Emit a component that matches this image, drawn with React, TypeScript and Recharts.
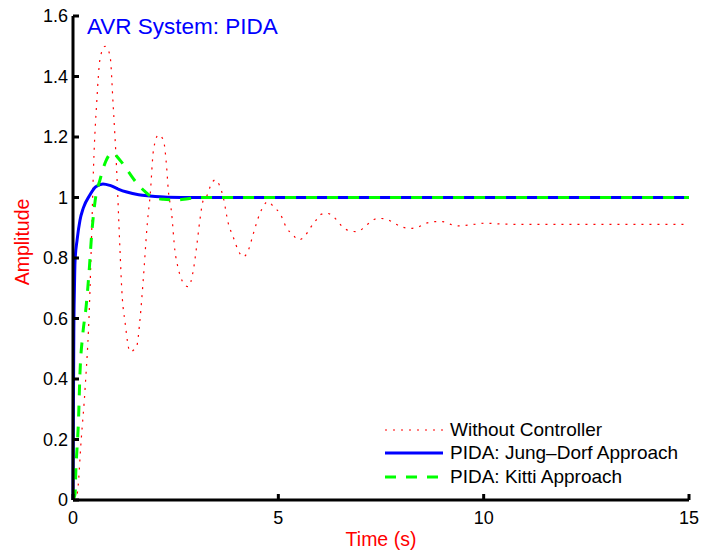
import React from 'react';
import { LineChart, Line, XAxis, YAxis, Legend } from 'recharts';

const FONT = '"Liberation Sans", Arial, Helvetica, sans-serif';

const xTicks = [0, 5, 10, 15];
const yTicks = [0, 0.2, 0.4, 0.6, 0.8, 1, 1.2, 1.4, 1.6];

// step response without controller (red dotted)
const noCtrlTime = [0, 0.1, 0.2, 0.3, 0.4, 0.45, 0.5, 0.58, 0.66, 0.78, 0.9, 0.98, 1.06, 1.14, 1.19, 1.27, 1.39, 1.47, 1.55, 1.63, 1.71, 1.81, 1.88, 1.96, 2.08, 2.2, 2.28, 2.32, 2.4, 2.48, 2.56, 2.69, 2.81, 2.93, 3.01, 3.09, 3.17, 3.25, 3.38, 3.46, 3.58, 3.66, 3.78, 3.9, 4.02, 4.15, 4.27, 4.39, 4.55, 4.75, 4.88, 5.04, 5.2, 5.36, 5.49, 5.65, 5.77, 5.89, 6.05, 6.16, 6.26, 6.42, 6.54, 6.73, 6.91, 7.09, 7.25, 7.43, 7.64, 7.82, 8.0, 8.21, 8.41, 8.6, 8.79, 9.0, 9.22, 9.42, 9.63, 9.83, 10.03, 10.5, 11, 12, 13, 14, 15];
const noCtrlAmp = [0, 0.02, 0.2, 0.38, 0.64, 0.86, 1.1, 1.32, 1.46, 1.5, 1.47, 1.3, 1.1, 0.84, 0.69, 0.585, 0.49, 0.495, 0.507, 0.595, 0.727, 0.915, 1.01, 1.157, 1.207, 1.19, 1.1, 1.025, 0.95, 0.826, 0.767, 0.717, 0.705, 0.76, 0.837, 0.926, 0.99, 1.003, 1.048, 1.058, 1.036, 1.0, 0.915, 0.87, 0.826, 0.804, 0.826, 0.88, 0.947, 0.986, 0.97, 0.947, 0.9, 0.876, 0.86, 0.873, 0.898, 0.92, 0.945, 0.948, 0.945, 0.926, 0.906, 0.89, 0.887, 0.901, 0.92, 0.931, 0.928, 0.915, 0.903, 0.898, 0.903, 0.915, 0.92, 0.92, 0.91, 0.906, 0.909, 0.912, 0.915, 0.912, 0.911, 0.911, 0.911, 0.911, 0.911];

// PIDA: Jung-Dorf (blue solid)
const jungDorfTime = [0, 0.01, 0.02, 0.035, 0.05, 0.1, 0.17, 0.25, 0.41, 0.55, 0.73, 0.9, 1.1, 1.31, 1.6, 1.87, 2.3, 3, 5, 10, 15];
const jungDorfAmp = [0, 0.3, 0.55, 0.7, 0.79, 0.86, 0.925, 0.965, 1.008, 1.035, 1.045, 1.04, 1.028, 1.018, 1.009, 1.005, 1.001, 1.0, 1.0, 1.0, 1.0];

// PIDA: Kitti (green dashed)
const kittiTime = [0, 0.05, 0.07, 0.1, 0.13, 0.17, 0.24, 0.32, 0.4, 0.45, 0.54, 0.66, 0.8, 0.95, 1.14, 1.35, 1.55, 1.75, 1.95, 2.2, 2.5, 2.8, 3.1, 5, 10, 15];
const kittiAmp = [0, 0.02, 0.1, 0.175, 0.25, 0.42, 0.55, 0.64, 0.77, 0.87, 0.99, 1.06, 1.12, 1.148, 1.124, 1.085, 1.048, 1.02, 1.0, 0.994, 0.992, 0.996, 1.0, 1.0, 1.0, 1.0];

const toPoints = (ts: number[], vs: number[]) => ts.map((t, i) => ({ t, v: vs[i] }));

const series = [
  { name: 'Without Controller', data: toPoints(noCtrlTime, noCtrlAmp), color: '#ff0000', width: 1.2, dash: '2 6' },
  { name: 'PIDA: Jung\u2013Dorf Approach', data: toPoints(jungDorfTime, jungDorfAmp), color: '#0000ff', width: 3, dash: undefined },
  { name: 'PIDA: Kitti Approach', data: toPoints(kittiTime, kittiAmp), color: '#00ff00', width: 3, dash: '11 10' },
];

const LegendBox = () => (
  <div style={{ fontFamily: FONT, fontSize: 19, color: '#000' }}>
    {series.map((s) => (
      <div key={s.name} style={{ display: 'flex', alignItems: 'center', height: 23.5 }}>
        <svg width={58} height={6}>
          <line x1={0} y1={3} x2={58} y2={3} stroke={s.color} strokeWidth={s.width} strokeDasharray={s.dash} />
        </svg>
        <span style={{ marginLeft: 7, whiteSpace: 'nowrap' }}>{s.name}</span>
      </div>
    ))}
  </div>
);

const YTitle = (props: any) => {
  const vb = props.viewBox || { x: 0, y: 16, width: 73, height: 484 };
  const cx = vb.x + 22;
  const cy = vb.y + vb.height / 2 - 16;
  return (
    <text x={cx} y={cy} transform={`rotate(-90 ${cx} ${cy})`} textAnchor="middle" dominantBaseline="central"
      fill="#ff0000" fontSize={19.5} fontFamily={FONT}>Amplitude</text>
  );
};

const XTitle = (props: any) => {
  const vb = props.viewBox || { x: 73, y: 500, width: 616, height: 56 };
  return (
    <text x={vb.x + vb.width / 2} y={vb.y + 39} textAnchor="middle" dominantBaseline="central"
      fill="#ff0000" fontSize={19.5} fontFamily={FONT}>Time (s)</text>
  );
};

export default function App() {
  const tickStyle = { fill: '#000', fontSize: 18, fontFamily: FONT };
  return (
    <div style={{ position: 'absolute', left: 0, top: 0, width: 702, height: 556, background: '#fff' }}>
      <LineChart width={702} height={556} margin={{ top: 16, right: 13, bottom: 0, left: 0 }}>
        <XAxis type="number" dataKey="t" domain={[0, 15]} ticks={xTicks} height={56}
          tick={tickStyle} tickSize={-6} tickMargin={17}
          axisLine={{ stroke: '#000', strokeWidth: 3 }} tickLine={{ stroke: '#000', strokeWidth: 3 }}
          label={{ content: XTitle }} />
        <YAxis type="number" domain={[0, 1.6]} ticks={yTicks} width={73}
          tick={tickStyle} tickSize={-6} tickMargin={11}
          axisLine={{ stroke: '#000', strokeWidth: 3 }} tickLine={{ stroke: '#000', strokeWidth: 3 }}
          label={{ content: YTitle }} />
        {series.map((s) => (
          <Line key={s.name} data={s.data} dataKey="v" name={s.name} type="monotone"
            stroke={s.color} strokeWidth={s.width} strokeDasharray={s.dash}
            dot={false} activeDot={false} isAnimationActive={false} />
        ))}
        <Legend layout="vertical" align="center" verticalAlign="middle" content={<LegendBox />}
          wrapperStyle={{ left: 385, top: 418, width: 'auto', height: 'auto' }} />
      </LineChart>
      <div style={{ position: 'absolute', left: 87, top: 16, fontFamily: FONT, fontSize: 22.5, lineHeight: 1, color: '#0000ff', whiteSpace: 'nowrap' }}>
        AVR System: PIDA
      </div>
    </div>
  );
}
